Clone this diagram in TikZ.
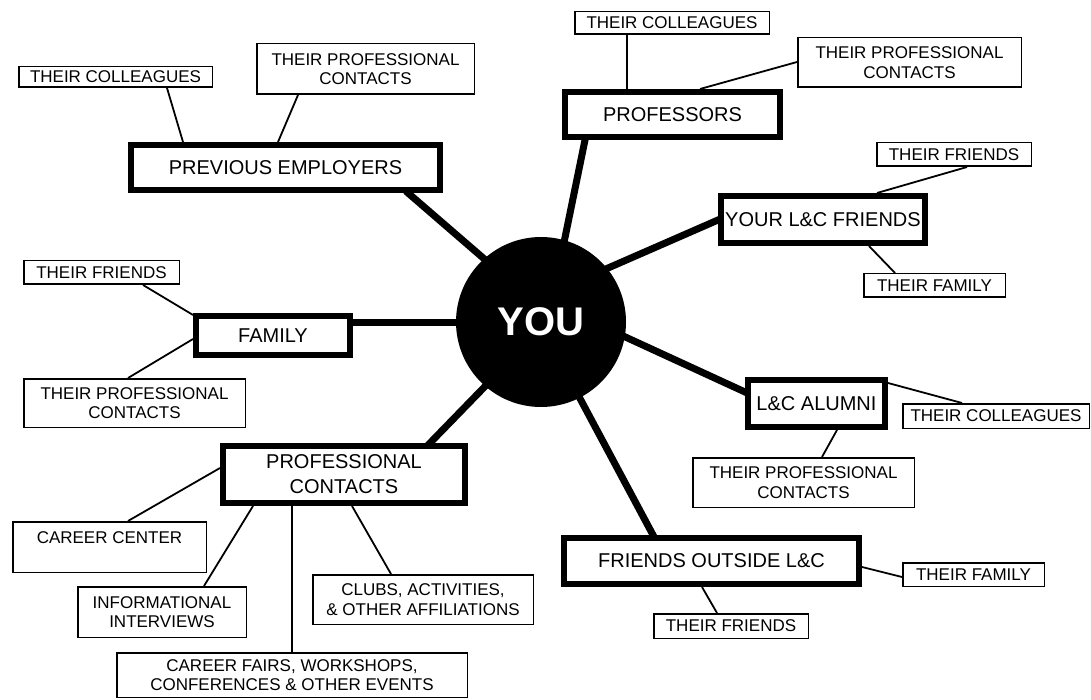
\documentclass[tikz,border=0pt]{standalone}
\usepackage{fontspec}
\setmainfont{Liberation Sans}
\usetikzlibrary{calc}
\begin{document}
\begin{tikzpicture}[x=1pt,y=-1pt,
  mainbox/.style={draw, line width=6pt, fill=white, align=center, inner sep=0pt,
    font=\fontsize{20}{25}\selectfont},
  subbox/.style={draw, line width=1.5pt, fill=white, align=center, inner sep=0pt,
    font=\fontsize{17}{19.5}\selectfont},
  youdisc/.style={circle, fill=black, minimum size=170pt, inner sep=0pt,
    text=white, font=\fontsize{40}{40}\selectfont\bfseries},
  thicklink/.style={line width=7pt, shorten <=-6pt, shorten >=-3pt},
  thinlink/.style={line width=1.8pt}]
\useasboundingbox[fill=white] (0,0) rectangle (1091,700);

% centre
\node[youdisc] (you) at (541,322) {YOU};

% main boxes
\node[mainbox, minimum width=309pt, minimum height=45pt] (pe) at (285.5,167.5) {PREVIOUS EMPLOYERS};
\node[mainbox, minimum width=215pt, minimum height=45pt] (pr) at (672.5,114.5) {PROFESSORS};
\node[mainbox, minimum width=204pt, minimum height=47pt] (yl) at (823,219.5) {YOUR L\&C FRIENDS};
\node[mainbox, minimum width=154pt, minimum height=39pt] (fa) at (273,335.5) {FAMILY};
\node[mainbox, minimum width=137pt, minimum height=47pt] (al) at (816.5,403.5) {L\&C ALUMNI};
\node[mainbox, minimum width=242pt, minimum height=57pt] (pc) at (344,474.5) {PROFESSIONAL\\CONTACTS};
\node[mainbox, minimum width=295pt, minimum height=46pt] (fo) at (711.5,561) {FRIENDS OUTSIDE L\&C};

% secondary boxes
\node[subbox, minimum width=193.5pt, minimum height=20.5pt] (pecol) at (115.5,77) {THEIR COLLEAGUES};
\node[subbox, minimum width=217.5pt, minimum height=50.5pt] (pepc) at (365.5,69) {THEIR PROFESSIONAL\\CONTACTS};
\node[subbox, minimum width=194.5pt, minimum height=22.5pt] (prcol) at (672,23) {THEIR COLLEAGUES};
\node[subbox, minimum width=223.5pt, minimum height=49.5pt] (prpc) at (909.5,62.5) {THEIR PROFESSIONAL\\CONTACTS};
\node[subbox, minimum width=154.5pt, minimum height=23.5pt] (ylfr) at (954,154.5) {THEIR FRIENDS};
\node[subbox, minimum width=141.5pt, minimum height=23.5pt] (ylfam) at (934.5,285.5) {THEIR FAMILY};
\node[subbox, minimum width=155.5pt, minimum height=23.5pt] (fafr) at (101.5,272.5) {THEIR FRIENDS};
\node[subbox, minimum width=221.5pt, minimum height=48.5pt] (fapc) at (134.5,403) {THEIR PROFESSIONAL\\CONTACTS};
\node[subbox, minimum width=186.5pt, minimum height=24.5pt] (alcol) at (996,416) {THEIR COLLEAGUES};
\node[subbox, minimum width=221.5pt, minimum height=49.5pt] (alpc) at (803.5,482.5) {THEIR PROFESSIONAL\\CONTACTS};
\node[subbox, minimum width=141.5pt, minimum height=23.5pt] (fofam) at (973.5,574.5) {THEIR FAMILY};
\node[subbox, minimum width=154.5pt, minimum height=24.5pt] (fofr) at (731,626) {THEIR FRIENDS};
\node[subbox, minimum width=193.5pt, minimum height=50.5pt] (cc) at (109.5,547) {CAREER CENTER\\\mbox{}};
\node[subbox, minimum width=168.5pt, minimum height=50.5pt] (ii) at (162,612) {INFORMATIONAL\\INTERVIEWS};
\node[subbox, minimum width=220.5pt, minimum height=49.5pt] (cl) at (423,599.5) {CLUBS, ACTIVITIES,\\\& OTHER AFFILIATIONS};
\node[subbox, minimum width=350.5pt, minimum height=44.5pt] (cf) at (292,675) {CAREER FAIRS, WORKSHOPS,\\CONFERENCES \& OTHER EVENTS};

% thick links from the centre
\draw[thicklink] (you.132) -- ($(pe.south east)+(-35,0)$);
\draw[thicklink] (you.74) -- ($(pr.south west)+(23,0)$);
\draw[thicklink] (you.39) -- ($(yl.north west)+(0,27)$);
\draw[thicklink] (you.west) -- ($(fa.north east)+(0,9)$);
\draw[thicklink] (you.-10) -- ($(al.north west)+(0,15)$);
\draw[thicklink] (you.229.5) -- ($(pc.north west)+(210,0)$);
\draw[thicklink] (you.297.5) -- ($(fo.north west)+(92,0)$);

% thin links
\draw[thinlink] ($(pecol.south west)+(149,0)$) -- ($(pe.north west)+(55,0)$);
\draw[thinlink] ($(pepc.south west)+(42,0)$) -- ($(pe.north west)+(150,0)$);
\draw[thinlink] ($(prcol.south west)+(53,0)$) -- ($(pr.north west)+(65,0)$);
\draw[thinlink] ($(prpc.north west)+(0,25)$) -- ($(pr.north west)+(138,0)$);
\draw[thinlink] ($(ylfr.south west)+(91,0)$) -- ($(yl.north west)+(159,0)$);
\draw[thinlink] ($(yl.south west)+(151,0)$) -- ($(ylfam.north west)+(32,0)$);
\draw[thinlink] ($(fafr.south west)+(120,0)$) -- ($(fa.north west)+(0,2)$);
\draw[thinlink] ($(fapc.north west)+(105,0)$) -- ($(fa.north west)+(0,26)$);
\draw[thinlink] ($(al.north east)+(0,6)$) -- ($(alcol.north west)+(60,0)$);
\draw[thinlink] ($(al.south west)+(92,0)$) -- ($(alpc.north west)+(130,0)$);
\draw[thinlink] ($(fo.north east)+(0,32)$) -- ($(fofam.north west)+(0,15)$);
\draw[thinlink] ($(fo.south west)+(141,0)$) -- ($(fofr.north west)+(64,0)$);
\draw[thinlink] ($(cc.north west)+(116,0)$) -- ($(pc.north west)+(0,25)$);
\draw[thinlink] ($(ii.north west)+(127,0)$) -- ($(pc.south west)+(33,0)$);
\draw[thinlink] ($(pc.south west)+(72,0)$) -- ($(cf.north west)+(176,0)$);
\draw[thinlink] ($(pc.south west)+(132,0)$) -- ($(cl.north west)+(79,0)$);
\end{tikzpicture}
\end{document}
